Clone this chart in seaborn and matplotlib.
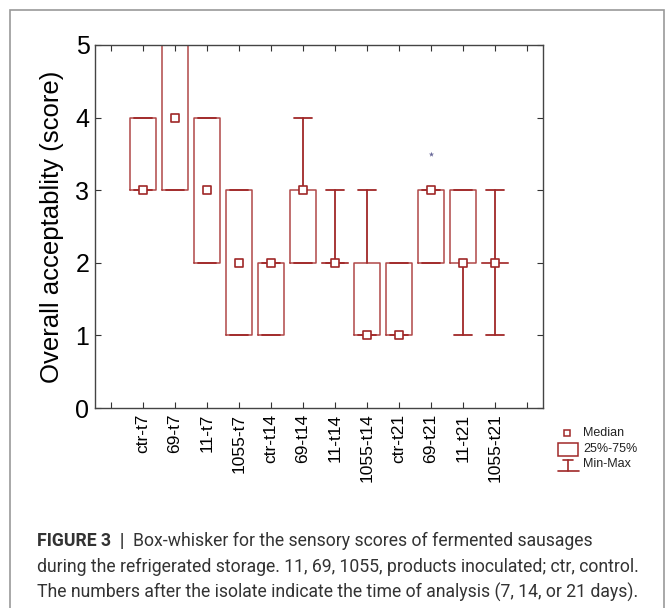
import matplotlib
matplotlib.use("Agg")
import matplotlib.pyplot as plt
import seaborn as sns
import pandas as pd
from matplotlib.patches import Rectangle
from matplotlib.lines import Line2D

categories = ["ctr-t7", "69-t7", "11-t7", "1055-t7", "ctr-t14", "69-t14", "11-t14",
              "1055-t14", "ctr-t21", "69-t21", "11-t21", "1055-t21"]
mins    = [3, 3, 2, 1, 1, 2, 2, 1, 1, 2, 1, 1]
q1      = [3, 3, 2, 1, 1, 2, 2, 1, 1, 2, 2, 2]
medians = [3, 4, 3, 2, 2, 3, 2, 1, 1, 3, 2, 2]
q3      = [4, 5, 4, 3, 2, 3, 2, 2, 2, 3, 3, 2]
maxs    = [4, 5, 4, 3, 2, 4, 3, 3, 2, 3, 3, 3]
outlier_cat = ["69-t21"]
outlier_val = [3.5]
legend_labels = ["Median", "25%-75%", "Min-Max"]
caption_bold = "FIGURE 3  |  "
caption_lines = [
    "Box-whisker for the sensory scores of fermented sausages",
    "during the refrigerated storage. 11, 69, 1055, products inoculated; ctr, control.",
    "The numbers after the isolate indicate the time of analysis (7, 14, or 21 days).",
]

sns.set_theme(style="white")
plt.rcParams['font.family'] = ['Liberation Sans', 'DejaVu Sans']
plt.rcParams['text.color'] = 'black'
plt.rcParams['xtick.color'] = 'black'
plt.rcParams['ytick.color'] = 'black'
plt.rcParams['axes.labelcolor'] = 'black'

RED = "#a02828"
BOXC = "#b04848"
W, H = 669, 608

def fx(x):
    return x / W

def fy(y):
    return 1 - y / H

fig = plt.figure(figsize=(6.69, 6.08), dpi=100)
ax = fig.add_axes([fx(95), fy(408), (543 - 95) / W, (408 - 45) / H])

positions = list(range(1, len(categories) + 1))
stats = []
for i, c in enumerate(categories):
    stats.append(dict(med=medians[i], q1=q1[i], q3=q3[i], whislo=mins[i], whishi=maxs[i],
                      fliers=[], label=c))
ax.bxp(stats, positions=positions, widths=0.8, showfliers=False, patch_artist=False,
       boxprops=dict(color=BOXC, linewidth=1.1),
       whiskerprops=dict(color=RED, linewidth=1.3),
       capprops=dict(color=RED, linewidth=1.3),
       medianprops=dict(linewidth=0), capwidths=0.56, manage_ticks=False)

df = pd.DataFrame({"pos": positions, "median": medians})
sns.scatterplot(data=df, x="pos", y="median", marker="s", s=28, color="white",
                edgecolor=RED, linewidth=1.2, ax=ax, zorder=5, legend=False)
odf = pd.DataFrame({"pos": [categories.index(c) + 1 for c in outlier_cat], "val": outlier_val})
sns.scatterplot(data=odf, x="pos", y="val", marker="*", s=16, color="#6a6a9a",
                linewidth=0, ax=ax, zorder=5, legend=False)

ax.set_xlim(-0.5, 13.5)
ax.set_ylim(0, 5)
ax.set_xticks(range(0, 14))
ax.set_xticklabels([""] + categories + [""], rotation=90, fontsize=12.5)
ax.set_yticks(range(0, 6))
ax.set_yticklabels([str(v) for v in range(0, 6)], fontsize=18)
ax.set_xlabel("")
ax.set_ylabel("Overall acceptablity (score)", fontsize=18.5, labelpad=8)
ax.tick_params(direction="in", length=4, width=0.8, color="#333333",
               top=True, right=True, bottom=True, left=True)
ax.tick_params(axis="x", pad=4)
ax.tick_params(axis="y", pad=4)
for s in ax.spines.values():
    s.set_color("#444444")
    s.set_linewidth(1.0)

# legend (drawn manually, figure pixel coordinates)
fig.add_artist(Line2D([fx(567)], [fy(433)], marker="s", markersize=5, linestyle="none",
                      markerfacecolor="white", markeredgecolor=RED, markeredgewidth=1.1,
                      transform=fig.transFigure))
fig.add_artist(Rectangle((fx(558), fy(456)), 20 / W, 13 / H, facecolor="white",
                         edgecolor=RED, linewidth=1.1, transform=fig.transFigure))
fig.add_artist(Line2D([fx(563), fx(573)], [fy(460), fy(460)], color=RED, linewidth=1.2,
                      transform=fig.transFigure))
fig.add_artist(Line2D([fx(568), fx(568)], [fy(460), fy(471)], color=RED, linewidth=1.2,
                      transform=fig.transFigure))
fig.add_artist(Line2D([fx(558), fx(579)], [fy(471), fy(471)], color=RED, linewidth=1.2,
                      transform=fig.transFigure))
for lab, yy in zip(legend_labels, [433, 449, 464]):
    fig.text(fx(583), fy(yy), lab, fontsize=9, va="center", ha="left", color="#222222")

# outer frame
fig.add_artist(Rectangle((fx(10), -0.05), (664 - 10) / W, (608 - 10) / H + 0.05,
                         transform=fig.transFigure, fill=False, edgecolor="#999999",
                         linewidth=1.2))

# caption
CAPC = "#333333"
CAPF = 12.7
t0 = fig.text(fx(37), fy(541), caption_bold, fontsize=CAPF, va="center", ha="left",
              color=CAPC, family="Roboto", weight="bold")
fig.canvas.draw()
bb = t0.get_window_extent(renderer=fig.canvas.get_renderer())
fig.text(bb.x1 / fig.bbox.width, fy(541), caption_lines[0], fontsize=CAPF, va="center",
         ha="left", color=CAPC, family="Roboto")
fig.text(fx(37), fy(567), caption_lines[1], fontsize=CAPF, va="center", ha="left",
         color=CAPC, family="Roboto")
fig.text(fx(37), fy(592), caption_lines[2], fontsize=CAPF, va="center", ha="left",
         color=CAPC, family="Roboto")

fig.savefig("out.png", dpi=100)
